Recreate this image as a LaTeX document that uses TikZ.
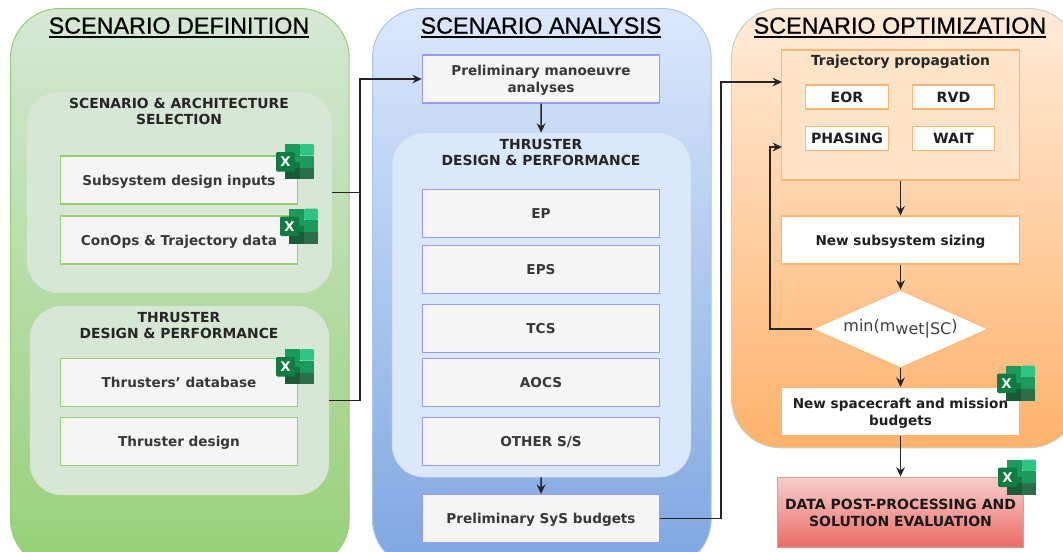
\documentclass[tikz,border=0pt]{standalone}
\usepackage{fontspec}
\setmainfont{DejaVu Sans}[Ligatures=ResetAll]
\newfontfamily\titlefont[FakeBold=0.7]{Liberation Sans}
\usetikzlibrary{shapes,arrows.meta}
\usetikzlibrary{shapes.geometric}

\definecolor{greenline}{HTML}{97D077}
\definecolor{blueline}{HTML}{9999FF}
\definecolor{orangeline}{HTML}{FFB570}
\definecolor{xla}{HTML}{2EC483}
\definecolor{xlb}{HTML}{1A9A5C}
\definecolor{xlc}{HTML}{107C41}
\definecolor{xld}{HTML}{185C37}
\definecolor{xle}{HTML}{2B6E4A}
\newcommand{\titleline}[1]{\vtop{\hbox{#1}\kern1.6pt\hrule height 1.2pt}}

\begin{document}
\begin{tikzpicture}[x=0.75pt,y=-0.75pt]
	\tikzset{column/.style={rectangle,rounded corners=37pt,inner sep=0pt,anchor=north west}}
	\tikzset{group/.style={rectangle,rounded corners=24pt,inner sep=0pt,align=center}}
	\tikzset{grouptitle/.style={align=center,font=\bfseries\fontsize{10.4}{12}\selectfont,text=black!85}}
	\tikzset{title/.style={font=\titlefont\fontsize{17.5}{20}\selectfont,inner sep=0pt}}
	\tikzset{box/.style={rectangle,draw,line width=0.9pt,minimum width=178pt,minimum height=36pt,inner sep=0pt,align=center,text depth=0pt,font=\bfseries\fontsize{10.2}{12.6}\selectfont}}
	\tikzset{greenbox/.style={box,draw=greenline,fill=black!4,text=black!78}}
	\tikzset{bluebox/.style={box,draw=blueline,fill=black!4,text=black!78}}
	\tikzset{whitebox/.style={box,draw=orangeline,fill=white,text=black!88}}
	\tikzset{smallbox/.style={whitebox,minimum width=62pt,minimum height=18pt,font=\bfseries\fontsize{10.6}{12}\selectfont}}
	\tikzset{link/.style={draw,black!85,line width=1.1pt}}
	\tikzset{flow/.style={link,-{Stealth[length=7pt,width=6.5pt]}}}
	\tikzset{xlicon/.pic={
		\fill[fill=xlb] (-10,-17.5) rectangle (5,0);
		\fill[fill=xla] (5,-17.5) -- (17,-17.5) [rounded corners=1pt] -- (19,-17.5) -- (19,-6) -- (5,-6) -- cycle;
		\fill[fill=xlb] (5,-6) rectangle (19,6);
		\fill[fill=xlc] (-10,0) rectangle (5,6);
		\fill[fill=xld] (-10,6) rectangle (5,17.5);
		\fill[fill=xle] (5,6) rectangle (19,17.5);
		\fill[fill=xlc,rounded corners=1pt] (-19,-9.5) rectangle (0,10);
		\node[text=white,font=\bfseries\fontsize{10}{11}\selectfont,inner sep=0pt] at (-9.5,0.5) {X};
	}}

	\useasboundingbox (0,0) rectangle (1063,551);
	\clip (0,0) rectangle (1063,551);

	% columns
	\node[column,draw=greenline,line width=0.8pt,minimum width=254pt,minimum height=420pt,top color={rgb,255:red,213;green,232;blue,212},bottom color={rgb,255:red,151;green,208;blue,119}] (defcol) at (10,8) {};
	\node[column,draw={rgb,255:red,169;green,196;blue,235},line width=0.7pt,minimum width=254pt,minimum height=420pt,top color={rgb,255:red,218;green,232;blue,252},bottom color={rgb,255:red,126;green,166;blue,224}] (anacol) at (372,8) {};
	\node[column,draw=green!35!black!25!white,line width=0.7pt,minimum width=260pt,minimum height=329.5pt,top color={rgb,255:red,255;green,235;blue,217},bottom color={rgb,255:red,255;green,178;blue,107}] (optcol) at (731,8) {};

	\node[title] (deftitle) at (179,27.5) {\titleline{SCENARIO DEFINITION}};
	\node[title] (anatitle) at (541,27.5) {\titleline{SCENARIO ANALYSIS}};
	\node[title] (opttitle) at (900,27.5) {\titleline{SCENARIO OPTIMIZATION}};

	% groups
	\node[group,fill={rgb,255:red,214;green,231;blue,213},draw=green!30!black!15!white,line width=0.5pt,minimum width=228.5pt,minimum height=150.5pt] (selgroup) at (179.5,192.5) {};
	\node[group,fill={rgb,255:red,214;green,231;blue,213},draw=green!30!black!15!white,line width=0.5pt,minimum width=224pt,minimum height=141.5pt] (thrgroup) at (179.5,400.5) {};
	\node[group,fill={rgb,255:red,218;green,232;blue,252},draw=blue!30!black!15!white,line width=0.5pt,minimum width=224pt,minimum height=258pt] (perfgroup) at (541.5,305) {};

	\node[grouptitle] (seltitle) at (179,111) {SCENARIO \& ARCHITECTURE\\SELECTION};
	\node[grouptitle] (thrtitle) at (179,325.5) {THRUSTER\\DESIGN \& PERFORMANCE};
	\node[grouptitle] (perftitle) at (541,152.5) {THRUSTER\\DESIGN \& PERFORMANCE};

	% first column
	\node[greenbox] (inputs) at (179,180) {Subsystem design inputs};
	\node[greenbox] (conops) at (179,240) {ConOps \& Trajectory data};
	\node[greenbox] (database) at (179,382.5) {Thrusters' database};
	\node[greenbox] (design) at (179,441.5) {Thruster design};

	% second column
	\node[bluebox] (prelim) at (541,79) {Preliminary manoeuvre\\analyses};
	\node[bluebox] (ep) at (541,213.5) {EP};
	\node[bluebox] (eps) at (541,269.5) {EPS};
	\node[bluebox] (tcs) at (541,328.5) {TCS};
	\node[bluebox] (aocs) at (541,382.5) {AOCS};
	\node[bluebox] (other) at (541,441.5) {OTHER S/S};
	\node[bluebox] (sysbudget) at (541,518.5) {Preliminary SyS budgets};

	% third column
	\node[box,draw=orangeline,fill={rgb,255:red,255;green,228;blue,201},minimum height=97.5pt] (traj) at (900.5,115) {};
	\node[grouptitle] (trajtitle) at (900.5,62) {Trajectory propagation};
	\node[smallbox] (eor) at (847,97) {EOR};
	\node[smallbox] (rvd) at (953.5,97) {RVD};
	\node[smallbox] (phasing) at (847,138.5) {PHASING};
	\node[smallbox] (wait) at (953.5,138.5) {WAIT};
	\node[whitebox] (sizing) at (900.5,240) {New subsystem sizing};
	\node[diamond,draw=orangeline,fill=white,line width=0.7pt,inner sep=0pt,aspect=2.25,minimum width=132pt,minimum height=58.5pt,font=\fontsize{12}{14}\selectfont,text=black!75] (minmass) at (900.5,329) {min(m\raisebox{-2.5pt}{wet|SC})};
	\node[whitebox] (budgets) at (900.5,411.5) {New spacecraft and mission\\budgets};
	\node[box,draw={rgb,255:red,232;green,150;blue,150},top color={rgb,255:red,248;green,206;blue,204},bottom color={rgb,255:red,234;green,107;blue,102},minimum width=185pt,minimum height=53pt,text=black!90,font=\bfseries\fontsize{10.5}{12.6}\selectfont] (results) at (900.5,512.5) {DATA POST-PROCESSING AND\\SOLUTION EVALUATION};

	% excel icons
	\pic at (295,161.5) {xlicon};
	\pic at (299,226) {xlicon};
	\pic at (295,366.5) {xlicon};
	\pic at (1016,383) {xlicon};
	\pic at (1017,477) {xlicon};

	% connectors
	\coordinate (busa) at (360,192);
	\coordinate (busb) at (360,400);
	\coordinate (busc) at (721,519);
	\coordinate (busd) at (721,82);
	\coordinate (trajin) at (782,82);
	\coordinate (loopa) at (770,329);
	\coordinate (loopb) at (770,147);
	\coordinate (loopin) at (782,147);
	\draw[link] (selgroup.east) -- (busa |- selgroup.east);
	\draw[flow] (thrgroup.east) -- (busb |- thrgroup.east) -- (busb |- prelim) -- (prelim);
	\draw[flow] (sysbudget) -- (busc |- sysbudget) -- (busd) -- (trajin);
	\draw[flow] (minmass) -- (loopa |- minmass) -- (loopb) -- (loopin);
	\draw[flow] (prelim) -- (perfgroup);
	\draw[flow] (perfgroup) -- (sysbudget);
	\draw[flow] (traj) -- (sizing);
	\draw[flow] (sizing) -- (minmass);
	\draw[flow] (minmass) -- (budgets);
	\draw[flow] (budgets) -- (results);
\end{tikzpicture}
\end{document}
